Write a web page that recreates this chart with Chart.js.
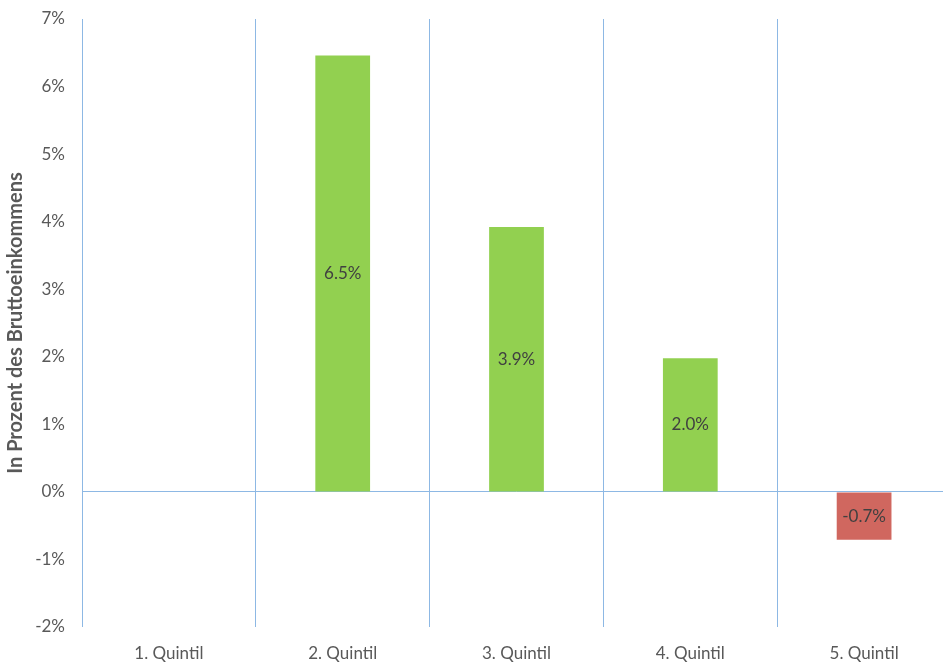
<!DOCTYPE html>
<html>
<head>
<meta charset="utf-8">
<script src="https://cdn.jsdelivr.net/npm/chart.js@4/dist/chart.umd.min.js"></script>
<style>
  html, body { margin: 0; padding: 0; background: #fff; overflow: hidden; }
  canvas { display: block; }
</style>
</head>
<body>
<canvas id="chart" width="960" height="662"></canvas>
<script>
// Data
const categories = ['1. Quintil', '2. Quintil', '3. Quintil', '4. Quintil', '5. Quintil'];
const values = [null, 6.46, 3.92, 1.98, -0.71];
const labels = [null, '6.5%', '3.9%', '2.0%', '-0.7%'];
const barColors = ['#92D050', '#92D050', '#92D050', '#92D050', '#D0675F'];

const gridBlue = '#8DB8E4';
const textGrey = '#595959';
const fontFamily = 'Lato, "Open Sans", sans-serif';

// Draw value labels in the middle of each bar
const barLabels = {
    id: 'barLabels',
    afterDatasetsDraw(chart) {
        const ctx = chart.ctx;
        const meta = chart.getDatasetMeta(0);
        ctx.save();
        ctx.font = '17px ' + fontFamily;
        ctx.fillStyle = '#404040';
        ctx.textAlign = 'center';
        ctx.textBaseline = 'middle';
        meta.data.forEach((bar, i) => {
            if (values[i] === null) return;
            ctx.fillText(labels[i], bar.x, (bar.y + bar.base) / 2);
        });
        ctx.restore();
    }
};

new Chart(document.getElementById('chart').getContext('2d'), {
    type: 'bar',
    data: {
        labels: categories,
        datasets: [{
            data: values,
            backgroundColor: barColors,
            borderWidth: 0,
            categoryPercentage: 1,
            barPercentage: 0.315
        }]
    },
    options: {
        responsive: false,
        animation: false,
        layout: { padding: { top: 19, right: 9, left: 0, bottom: 0 } },
        plugins: {
            legend: { display: false },
            tooltip: { enabled: false }
        },
        scales: {
            x: {
                afterFit: (scale) => { scale.height = 35; },
                grid: { offset: true, color: gridBlue, lineWidth: 1, drawTicks: false },
                border: { display: false },
                ticks: { color: textGrey, font: { family: fontFamily, size: 17 }, padding: 16 }
            },
            y: {
                min: -2,
                max: 7,
                afterFit: (scale) => {
                    scale.width = 82;
                    scale.paddingTop = 0;
                    scale.paddingBottom = 0;
                },
                grid: {
                    drawTicks: false,
                    color: (c) => (c.tick && c.tick.value === 0 ? gridBlue : 'rgba(0,0,0,0)')
                },
                border: { display: false },
                ticks: {
                    stepSize: 1,
                    color: textGrey,
                    font: { family: fontFamily, size: 17 },
                    padding: 17,
                    callback: (v) => v + '%'
                },
                title: {
                    display: true,
                    text: 'In Prozent des Bruttoeinkommens',
                    color: textGrey,
                    font: { family: fontFamily, size: 20, weight: 'bold' },
                    padding: { top: 4, bottom: 0 }
                }
            }
        }
    },
    plugins: [barLabels]
});
</script>
</body>
</html>
